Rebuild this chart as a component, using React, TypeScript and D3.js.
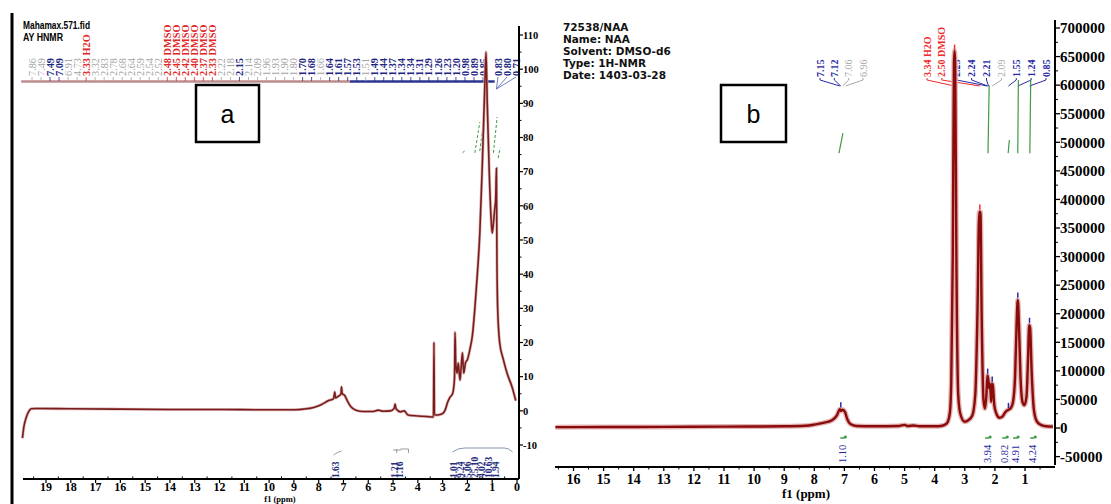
import * as d3 from "d3";

// ---------- panel a : Mahamax.571.fid ----------
const headerA = ["Mahamax.571.fid", "AY  HNMR"];

// [ppm, intensity]
const specA: [number, number][] = [
  [19.95, -8], [19.9, -5], [19.8, -2], [19.7, -0.2], [19.6, 0.6], [19.4, 0.7],
  [18, 0.6], [16, 0.5], [14, 0.4], [12, 0.4], [10, 0.3], [9, 0.3], [8.6, 0.5],
  [8.2, 1], [7.9, 1.8], [7.6, 3], [7.4, 3.6], [7.35, 5.5], [7.32, 3.8], [7.2, 4.3],
  [7.1, 5], [7.08, 7], [7.05, 5], [6.95, 4.5], [6.85, 3], [6.7, 1.2], [6.5, 0.2],
  [6.2, -0.2], [5.8, -0.2], [5.6, 0.2], [5.4, -0.1], [5.1, 0], [4.95, 0.8],
  [4.92, 2], [4.88, 0.6], [4.7, -0.3], [4.55, 0], [4.4, -1.2], [4.0, -1.5],
  [3.6, -1.7], [3.37, -1.8], [3.35, 20], [3.33, -1.2], [3.2, -1.2], [3.0, -0.8],
  [2.9, 0.2], [2.8, 2.5], [2.7, 4], [2.6, 5], [2.55, 7], [2.52, 10], [2.5, 23],
  [2.47, 14], [2.42, 11], [2.37, 14], [2.3, 9], [2.25, 13], [2.2, 17], [2.15, 11],
  [2.08, 14], [2.0, 15], [1.9, 18], [1.8, 22], [1.7, 30], [1.6, 40], [1.5, 52],
  [1.4, 72], [1.3, 95], [1.25, 105], [1.2, 90], [1.12, 70], [1.05, 57], [1.0, 52],
  [0.95, 55], [0.9, 59], [0.86, 62], [0.83, 71], [0.81, 45], [0.78, 30], [0.7, 20],
  [0.55, 15], [0.4, 11], [0.2, 7], [0.05, 3],
];

const xTicksA = [19, 18, 17, 16, 15, 14, 13, 12, 11, 10, 9, 8, 7, 6, 5, 4, 3, 2, 1, 0];
const yTicksA = [110, 100, 90, 80, 70, 60, 50, 40, 30, 20, 10, 0, -10];

type Kind = "minor" | "peak" | "solvent";
// peak labels left of the big signal
const peaksA: [string, Kind][] = [
  ["7.86", "minor"], ["7.49", "minor"], ["7.49", "peak"], ["7.09", "peak"], ["6.91", "minor"],
  ["4.73", "minor"], ["3.33 H2O", "solvent"], ["3.32", "minor"], ["2.83", "minor"], ["2.78", "minor"],
  ["2.68", "minor"], ["2.64", "minor"], ["2.59", "minor"], ["2.54", "minor"], ["2.52", "minor"],
  ["2.48 DMSO", "solvent"], ["2.45 DMSO", "solvent"], ["2.42 DMSO", "solvent"], ["2.40 DMSO", "solvent"],
  ["2.37 DMSO", "solvent"], ["2.33 DMSO", "solvent"], ["2.22", "minor"], ["2.18", "minor"], ["2.15", "peak"],
  ["2.14", "minor"], ["2.09", "minor"], ["1.96", "minor"], ["1.93", "minor"], ["1.90", "minor"],
  ["1.80", "minor"], ["1.70", "peak"], ["1.68", "peak"], ["1.66", "minor"], ["1.64", "peak"],
  ["1.61", "peak"], ["1.57", "peak"], ["1.53", "peak"], ["1.51", "minor"], ["1.49", "peak"],
  ["1.44", "peak"], ["1.37", "peak"], ["1.34", "peak"], ["1.34", "peak"], ["1.31", "peak"],
  ["1.29", "peak"], ["1.26", "peak"], ["1.23", "peak"], ["1.20", "peak"], ["0.98", "peak"],
  ["0.89", "peak"], ["0.85", "peak"],
];
// labels right of the big signal
const peaksA2: [string, Kind][] = [["0.83", "peak"], ["0.80", "peak"], ["0.71", "peak"]];

const integralsA: [number, string][] = [
  [7.3, "1.63"], [4.92, "1.21"], [4.72, "1.16"], [2.54, "1.01"], [2.26, "9.24"],
  [1.98, "5.06"], [1.69, "25.10"], [1.41, "4.02"], [1.13, "10.63"], [0.85, "1.94"],
];
// integral curves: [ppm from, ppm to, value from, value to]
const intCurvesA: [number, number, number, number][] = [
  [2.2, 2.05, 75.5, 76.5], [1.7, 1.5, 75.5, 84.5], [1.5, 1.38, 76, 83],
  [0.95, 0.8, 75.5, 86], [0.76, 0.68, 74, 77],
];

// ---------- panel b : 72538/NAA ----------
const headerB = ["72538/NAA", "Name: NAA", "Solvent: DMSO-d6", "Type: 1H-NMR", "Date: 1403-03-28"];

const specB: [number, number][] = [
  [16.6, 1500], [15, 1800], [13, 2000], [11, 2500], [9, 3000], [8.3, 4000], [8, 6000],
  [7.7, 9000], [7.4, 14000], [7.25, 22000], [7.15, 33000], [7.12, 30000], [7.06, 32000],
  [6.98, 28000], [6.9, 15000], [6.8, 7000], [6.6, 3500], [6.0, 3000], [5.2, 3500],
  [5.0, 5500], [4.9, 3500], [4.7, 4500], [4.5, 3000], [4.0, 3000], [3.75, 4000],
  [3.6, 8000], [3.5, 25000], [3.45, 80000], [3.4, 300000], [3.36, 640000], [3.34, 660000],
  [3.32, 640000], [3.28, 300000], [3.22, 60000], [3.15, 25000], [3.0, 11000], [2.9, 13000],
  [2.75, 22000], [2.65, 60000], [2.58, 200000], [2.52, 378000], [2.48, 378000],
  [2.44, 200000], [2.38, 50000], [2.33, 34000], [2.28, 60000], [2.25, 92000], [2.22, 85000],
  [2.2, 70000], [2.17, 78000], [2.14, 60000], [2.12, 46000], [2.1, 78000], [2.07, 75000],
  [2.02, 40000], [1.95, 25000], [1.85, 18000], [1.75, 20000], [1.65, 28000], [1.55, 32000],
  [1.47, 35000], [1.4, 45000], [1.33, 90000], [1.28, 180000], [1.24, 224000],
  [1.2, 180000], [1.15, 90000], [1.08, 45000], [1.02, 40000], [0.95, 55000], [0.9, 120000],
  [0.86, 180000], [0.83, 175000], [0.78, 100000], [0.7, 30000], [0.6, 11000],
  [0.45, 5000], [0.3, 3000], [0.07, 2500],
];

const xTicksB = [16, 15, 14, 13, 12, 11, 10, 9, 8, 7, 6, 5, 4, 3, 2, 1];
const yTicksB = [700000, 650000, 600000, 550000, 500000, 450000, 400000, 350000, 300000,
  250000, 200000, 150000, 100000, 50000, 0, -50000];

// [label, ppm, kind]
const peaksB1: [string, number, Kind][] = [
  ["7.15", 7.15, "peak"], ["7.12", 7.12, "peak"], ["7.06", 7.06, "minor"], ["6.96", 6.96, "minor"],
];
const peaksB2: [string, number, Kind][] = [
  ["3.34 H2O", 3.34, "solvent"], ["2.50 DMSO", 2.5, "solvent"], ["2.25", 2.25, "peak"],
  ["2.24", 2.24, "peak"], ["2.21", 2.21, "peak"], ["2.09", 2.09, "minor"],
  ["1.55", 1.55, "peak"], ["1.24", 1.24, "peak"], ["0.85", 0.85, "peak"],
];
// [ppm, value] peak-top marks
const peakMarksB: [number, number, Kind][] = [
  [7.12, 34000, "peak"], [3.34, 660000, "solvent"], [2.5, 380000, "solvent"], [2.24, 93000, "peak"],
  [2.09, 79000, "peak"], [1.55, 33000, "peak"], [1.24, 226000, "peak"], [0.85, 182000, "peak"],
];
const integralsB: [number, string][] = [
  [7.07, "1.10"], [2.26, "3.94"], [1.69, "0.82"], [1.33, "4.91"], [0.76, "4.24"],
];
const intCurvesB: [number, number, number, number][] = [
  [7.18, 7.05, 481000, 516000], [2.23, 2.19, 481000, 600000], [1.56, 1.52, 481000, 504000],
  [1.24, 1.22, 481000, 609000], [0.84, 0.81, 481000, 609000],
];

const SERIF = "'Liberation Serif', 'DejaVu Serif', serif";
const COL: Record<Kind, string> = { minor: "#a3a3a3", peak: "#1d2683", solvent: "#e02626" };
const COLB: Record<Kind, string> = { minor: "#a8a8a8", peak: "#2a2aa5", solvent: "#f02a2a" };

function VText({ x, y, text, fill, size, weight = "normal" }: {
  x: number; y: number; text: string; fill: string; size: number; weight?: string;
}) {
  return (
    <text transform={`translate(${x},${y}) rotate(-90)`} dy="0.35em" fill={fill}
      fontSize={size} fontFamily={SERIF} fontWeight={weight}>{text}</text>
  );
}

export default function App() {
  const xA = d3.scaleLinear().domain([19, 0]).range([46, 517]);
  const yA = d3.scaleLinear().domain([-10, 110]).range([445, 35]);
  const xB = d3.scaleLinear().domain([16, 1]).range([573.5, 1025]);
  const yB = d3.scaleLinear().domain([-50000, 700000]).range([456.6, 28]);

  const lineA = d3.line<[number, number]>().x((d) => xA(d[0])).y((d) => yA(d[1]))
    .curve(d3.curveMonotoneX);
  const lineB = d3.line<[number, number]>().x((d) => xB(d[0])).y((d) => yB(d[1]))
    .curve(d3.curveMonotoneX);

  const posA = d3.scalePoint<number>().domain(d3.range(peaksA.length)).range([32, 483]);
  const posA2 = d3.scalePoint<number>().domain(d3.range(peaksA2.length)).range([498, 516]);
  const posB1 = d3.scalePoint<number>().domain(d3.range(peaksB1.length)).range([820, 863]);
  const posB2 = d3.scalePoint<number>().domain(d3.range(peaksB2.length)).range([927, 1046]);

  const axA = { x: 519, y: 479 };
  const axB = { x: 1055, y: 467 };
  const minorA = d3.range(-10, 111, 5).filter((v) => v % 10 !== 0);
  const minorXA = d3.range(0.5, 19.6, 1);
  const minorB = d3.range(-50000, 700001, 25000).filter((v) => v % 50000 !== 0);
  const minorXB = d3.range(0.5, 16.6, 1);

  return (
    <svg width={1111} height={504} style={{ position: "fixed", left: 0, top: 0, background: "#fff" }}>
      <rect width={1111} height={504} fill="#fff" />
      {/* frame line on the left of panel a */}
      <line x1={12} x2={12} y1={13} y2={504} stroke="#000" strokeWidth={3} />

      {/* ---------- panel a ---------- */}
      {headerA.map((t, i) => (
        <text key={t} x={23} y={29 + i * 12} fontSize={11} fontWeight="bold"
          fontFamily="'Liberation Sans Narrow', 'Liberation Sans', sans-serif"
          textLength={i === 0 ? 67 : 40} lengthAdjust="spacingAndGlyphs">{t}</text>
      ))}

      {/* peak label bar */}
      <line x1={xA(20)} x2={350} y1={81.5} y2={81.5} stroke="#bc8c8c" strokeWidth={2.5} />
      <line x1={350} x2={xA(0.9)} y1={81.5} y2={81.5} stroke="#2a3690" strokeWidth={2.5} />
      {peaksA.map(([t, k], i) => (
        <g key={"pa" + i}>
          <line x1={posA(i)!} x2={posA(i)!} y1={77} y2={81} stroke={COL[k]} strokeWidth={0.8} />
          <VText x={posA(i)!} y={76} text={t} fill={COL[k]} size={10.3}
            weight={k === "minor" ? "normal" : "bold"} />
        </g>
      ))}
      {peaksA2.map(([t, k], i) => (
        <g key={"pa2" + i}>
          <line x1={posA2(i)!} x2={xA(0.83)} y1={77} y2={89} stroke="#5060a8" strokeWidth={0.8} />
          <VText x={posA2(i)!} y={76} text={t} fill={COL[k]} size={10.3} weight="bold" />
        </g>
      ))}

      {/* integral curves a */}
      {intCurvesA.map(([p0, p1, v0, v1], i) => (
        <line key={"ia" + i} x1={xA(p0)} x2={xA(p1)} y1={yA(v0)} y2={yA(v1)}
          stroke="#3f9a4a" strokeWidth={1} strokeDasharray="3,2" />
      ))}

      {/* box a */}
      <rect x={196} y={85} width={63} height={57} fill="#fff" stroke="#000" strokeWidth={2.5} />
      <text x={227.5} y={123} textAnchor="middle" fontSize={25}
        fontFamily="'Liberation Sans', 'Open Sans', sans-serif">a</text>

      {/* spectrum a */}
      <path d={lineA(specA)!} fill="none" stroke="#dcb8b8" strokeWidth={3} />
      <path d={lineA(specA)!} fill="none" stroke="#7a1c1c" strokeWidth={1.6} />

      {/* integrals a */}
      <path d={`M${xA(7.4)},455 q4,-3 8,-4 M${xA(5.0)},450 h8 M${xA(4.85)},449 v4 M${xA(4.7)},449 h8 v4`}
        fill="none" stroke="#7a8a7a" strokeWidth={0.8} />
      <path d={`M${xA(2.6)},452 q5,-4 12,-4 h40 q4,0 8,4`} fill="none" stroke="#6a7aa0" strokeWidth={0.8} />
      {integralsA.map(([p, t]) => (
        <VText key={"ta" + t} x={xA(p)} y={478} text={t} fill="#26307c" size={9.5} weight="bold" />
      ))}

      {/* right axis a */}
      <line x1={axA.x} x2={axA.x} y1={26} y2={axA.y} stroke="#000" strokeWidth={2} />
      {yTicksA.map((v) => (
        <g key={"ya" + v}>
          <line x1={axA.x} x2={axA.x + 4} y1={yA(v)} y2={yA(v)} stroke="#000" strokeWidth={1.2} />
          <text x={axA.x + 4} y={yA(v)} dy="0.35em" fontSize={10.5} fontWeight="bold"
            fontFamily={SERIF}>{v < 0 ? "-" + Math.abs(v) : v}</text>
        </g>
      ))}
      {minorA.map((v) => (
        <line key={"yam" + v} x1={axA.x} x2={axA.x + 2.5} y1={yA(v)} y2={yA(v)} stroke="#000" />
      ))}

      {/* bottom axis a */}
      <line x1={23} x2={axA.x} y1={axA.y} y2={axA.y} stroke="#000" strokeWidth={2} />
      {xTicksA.map((v) => (
        <g key={"xa" + v}>
          <line x1={xA(v)} x2={xA(v)} y1={axA.y} y2={axA.y + 4} stroke="#000" strokeWidth={1.2} />
          <text x={xA(v)} y={491} textAnchor="middle" fontSize={12} fontWeight="bold"
            fontFamily={SERIF}>{v}</text>
        </g>
      ))}
      {minorXA.map((v) => (
        <line key={"xam" + v} x1={xA(v)} x2={xA(v)} y1={axA.y} y2={axA.y - 2.5} stroke="#000" />
      ))}
      <text x={280} y={502} textAnchor="middle" fontSize={8.5} fontWeight="bold"
        fontFamily={SERIF}>f1 (ppm)</text>

      {/* ---------- panel b ---------- */}
      {headerB.map((t, i) => (
        <text key={t} x={563} y={31 + i * 12} fontSize={10.5} fontWeight="bold"
          fontFamily="'DejaVu Sans', Verdana, sans-serif" fill="#111">{t}</text>
      ))}

      {peaksB1.map(([t, p, k], i) => (
        <g key={"pb1" + i}>
          <path d={`M${posB1(i)!},78 v2 L${xB(p)},86`} fill="none" stroke={COLB[k]} strokeWidth={1} />
          <VText x={posB1(i)!} y={77} text={t} fill={COLB[k]} size={10}
            weight={k === "minor" ? "normal" : "bold"} />
        </g>
      ))}
      {peaksB2.map(([t, p, k], i) => (
        <g key={"pb2" + i}>
          <path d={`M${posB2(i)!},78 v2 L${xB(p)},86`} fill="none" stroke={COLB[k]} strokeWidth={1} />
          <VText x={posB2(i)!} y={77} text={t} fill={COLB[k]} size={10}
            weight={k === "minor" ? "normal" : "bold"} />
        </g>
      ))}

      {intCurvesB.map(([p0, p1, v0, v1], i) => (
        <line key={"ib" + i} x1={xB(p0)} x2={xB(p1)} y1={yB(v0)} y2={yB(v1)}
          stroke="#3d9b45" strokeWidth={1.2} />
      ))}

      {/* box b */}
      <rect x={721} y={85} width={65} height={57} fill="#fff" stroke="#000" strokeWidth={2.5} />
      <text x={753.5} y={123} textAnchor="middle" fontSize={25}
        fontFamily="'Liberation Sans', 'Open Sans', sans-serif">b</text>

      {/* spectrum b */}
      <path d={lineB(specB)!} fill="none" stroke="#e3b4b4" strokeWidth={5} />
      <path d={lineB(specB)!} fill="none" stroke="#8b0a0a" strokeWidth={2.4} />
      {peakMarksB.map(([p, v, k]) => (
        <line key={"mk" + p} x1={xB(p)} x2={xB(p)} y1={yB(v + 2000)} y2={yB(v + 11000)}
          stroke={COLB[k]} strokeWidth={1.5} />
      ))}

      {/* integrals b */}
      {integralsB.map(([p, t]) => (
        <g key={"tb" + t}>
          <line x1={xB(p) - 2} x2={xB(p) + 2} y1={438} y2={438} stroke="#3d9b45" strokeWidth={1.5} />
          <circle cx={xB(p) + 3} cy={437} r={1.6} fill="#3d9b45" />
          <VText x={xB(p)} y={463} text={t} fill="#2a2aa5" size={10.5} />
        </g>
      ))}

      {/* right axis b */}
      <line x1={axB.x} x2={axB.x} y1={20} y2={axB.y - 2} stroke="#000" strokeWidth={2} />
      {yTicksB.map((v) => (
        <g key={"yb" + v}>
          <line x1={axB.x} x2={axB.x + 5} y1={yB(v)} y2={yB(v)} stroke="#000" strokeWidth={1.3} />
          <text x={axB.x + 5} y={yB(v)} dy="0.35em" fontSize={15} fontWeight="bold"
            fontFamily={SERIF}>{v < 0 ? "-" + Math.abs(v) : v}</text>
        </g>
      ))}
      {minorB.map((v) => (
        <line key={"ybm" + v} x1={axB.x} x2={axB.x + 3} y1={yB(v)} y2={yB(v)} stroke="#000" />
      ))}

      {/* bottom axis b */}
      <line x1={555} x2={axB.x} y1={axB.y} y2={axB.y} stroke="#000" strokeWidth={2} />
      {xTicksB.map((v) => (
        <g key={"xb" + v}>
          <line x1={xB(v)} x2={xB(v)} y1={axB.y} y2={axB.y + 4} stroke="#000" strokeWidth={1.3} />
          <text x={xB(v)} y={484} textAnchor="middle" fontSize={14} fontWeight="bold"
            fontFamily={SERIF}>{v}</text>
        </g>
      ))}
      {minorXB.map((v) => (
        <line key={"xbm" + v} x1={xB(v)} x2={xB(v)} y1={axB.y} y2={axB.y + 2.5} stroke="#000" />
      ))}
      <text x={806} y={498} textAnchor="middle" fontSize={13} fontWeight="bold"
        fontFamily={SERIF}>f1 (ppm)</text>
    </svg>
  );
}
